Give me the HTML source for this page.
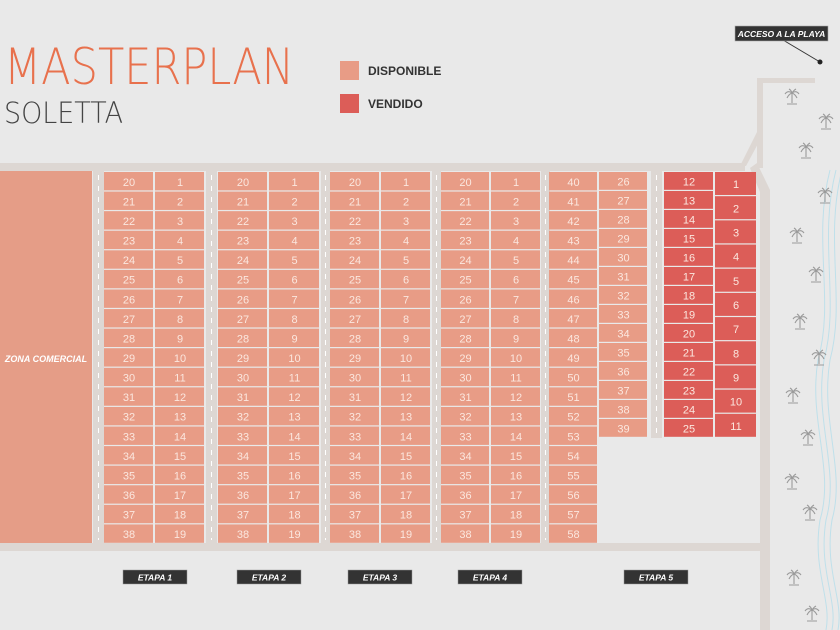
<!DOCTYPE html>
<html><head><meta charset="utf-8">
<style>
html,body{margin:0;padding:0;background:#e9e9e9;}
svg{display:block;}
text{font-family:"Liberation Sans",sans-serif;}
.thin{font-family:"DejaVu Sans","Liberation Sans",sans-serif;font-weight:200;}
</style></head>
<body>
<svg id="plan" width="840" height="630" viewBox="0 0 840 630" xmlns="http://www.w3.org/2000/svg">
  <rect x="0" y="0" width="840" height="630" fill="#e9e9e9"/>
  <g fill="none" stroke="#bfe0ea" stroke-width="1">
    <path d="M830 170 C812 240 835 300 818 360 C808 420 835 470 820 520 C812 570 832 600 826 630"/>
    <path d="M836 170 C818 240 840 300 824 360 C814 420 840 470 826 520 C818 570 838 600 832 630"/>
    <path d="M842 170 C824 240 846 300 830 360 C820 420 846 470 832 520 C824 570 844 600 838 630"/>
  </g>
  <g fill="#ddd7d3">
    <rect x="0" y="163" width="745" height="8"/>
    <rect x="0" y="543" width="770" height="8"/>
    <rect x="757" y="78" width="58" height="5"/>
    <rect x="757" y="78" width="6" height="90"/>
    <polygon points="740,166 746,166 760,140 757,132"/>
    <path d="M757 163 L770 190 L770 630 L760 630 L760 192 L750 168 Z"/>
  </g>
  <g id="strips"></g>
  <rect x="0" y="171" width="92" height="372" fill="#e59d87"/>
  <text x="46" y="362" text-anchor="middle" font-size="9" font-weight="bold" font-style="italic" fill="#fff">ZONA COMERCIAL</text>
  <g id="lots"></g>
  <g id="labels"></g>
  <g id="palms"></g>

  <text class="thin" x="4" y="84" font-size="50" fill="#e8714d" textLength="290" lengthAdjust="spacingAndGlyphs">MASTERPLAN</text>
  <text class="thin" x="4" y="123" font-size="29" fill="#444" textLength="119" lengthAdjust="spacingAndGlyphs">SOLETTA</text>

  <rect x="340" y="61" width="19" height="19" fill="#e89c86"/>
  <text x="368" y="75" font-size="12" font-weight="bold" fill="#333">DISPONIBLE</text>
  <rect x="340" y="94" width="19" height="19" fill="#dc5d58"/>
  <text x="368" y="108" font-size="12" font-weight="bold" fill="#333">VENDIDO</text>

  <line x1="783" y1="40" x2="820" y2="62" stroke="#333" stroke-width="1"/>
  <circle cx="820" cy="62" r="2.5" fill="#222"/>
  <rect x="735" y="26" width="93" height="15" fill="#333" stroke="#aaa" stroke-width="0.6"/>
  <text x="781.5" y="37" text-anchor="middle" font-size="8.5" font-weight="bold" font-style="italic" fill="#fff">ACCESO A LA PLAYA</text>
</svg>
<script>
const NS="http://www.w3.org/2000/svg";
const colX=[104,155,218,269,330,381,441,491,549,599,664,715];
const colW=[50,50,50,51,50,50,49,50,49,49,50,42];
const colStart=[20,1,20,1,20,1,20,1,40,26,12,1];
const colCount=[19,19,19,19,19,19,19,19,19,14,14,11];
const colSold=[0,0,0,0,0,0,0,0,0,0,1,1];
const stageNames=["ETAPA 1","ETAPA 2","ETAPA 3","ETAPA 4","ETAPA 5"];
const stageX=[123,237,348,458,624];
const stripX=[93,206,321,432,541,651];
const palmPts=[[792,97],[826,122],[806,151],[825,196],[797,236],[816,275],[800,322],[819,358],[793,396],[808,438],[792,482],[810,513],[794,578],[812,614]];
const top0=172, bot0=544, rowH=(bot0-top0)/19;
const lots=document.getElementById('lots');
function mk(t,a,p){const e=document.createElementNS(NS,t);for(const k in a)e.setAttribute(k,a[k]);p.appendChild(e);return e;}
for(let c=0;c<colX.length;c++){
  const n=colCount[c];
  let h=rowH;
  if(c>=9) h=(438-top0)/n;
  for(let i=0;i<n;i++){
    const y=top0+i*h;
    const r=mk('rect',{x:colX[c],y:y,width:colW[c]-1,height:h-1.2,fill:colSold[c]?'#dc5d58':'#e89c86'},lots);
    
    
    const t=mk('text',{x:colX[c]+colW[c]/2,y:y+h/2+4,'text-anchor':'middle','font-size':'11',fill:'#fbe7df'},lots);
    t.textContent=colStart[c]+i;
    
    
  }
}
const strips=document.getElementById('strips');
stripX.forEach((x,k)=>{
  const w=(k===0||k===1||k===5)?11:9;
  const bottom=(k===5)?438:543;
  const s=mk('rect',{x:x,y:171,width:w,height:bottom-171,fill:'#ddd7d3'},strips);
  
  
  const d=mk('line',{x1:x+w/2,y1:175,x2:x+w/2,y2:bottom-3,stroke:'#fff','stroke-width':'1','stroke-dasharray':'5 6'},strips);
  
  
});
const labels=document.getElementById('labels');
stageNames.forEach((n,i)=>{
  const r=mk('rect',{x:stageX[i],y:570,width:64,height:14,fill:'#333',stroke:'#999','stroke-width':'0.5'},labels);
  
  
  const t=mk('text',{x:stageX[i]+32,y:580.5,'text-anchor':'middle','font-size':'8.5','font-weight':'bold','font-style':'italic',fill:'#fff'},labels);
  t.textContent=n;
  
  
});
const palms=document.getElementById('palms');
palmPts.forEach(p=>{
  const g=mk('g',{transform:'translate('+p[0]+','+p[1]+')',fill:'none',stroke:'#9a9a9a','stroke-width':'1.1'},palms);
  
  
  mk('path',{d:'M0 -4 L0 6 M0 -4 Q-4 -7 -7 -3 M0 -4 Q4 -7 7 -3 M0 -4 Q-3 -3 -5 1 M0 -4 Q3 -3 5 1 M0 -4 Q-1 -7 -3 -8 M0 -4 Q2 -7 4 -8 M-5 7 L5 7'},g);
});
</script>
</body></html>
